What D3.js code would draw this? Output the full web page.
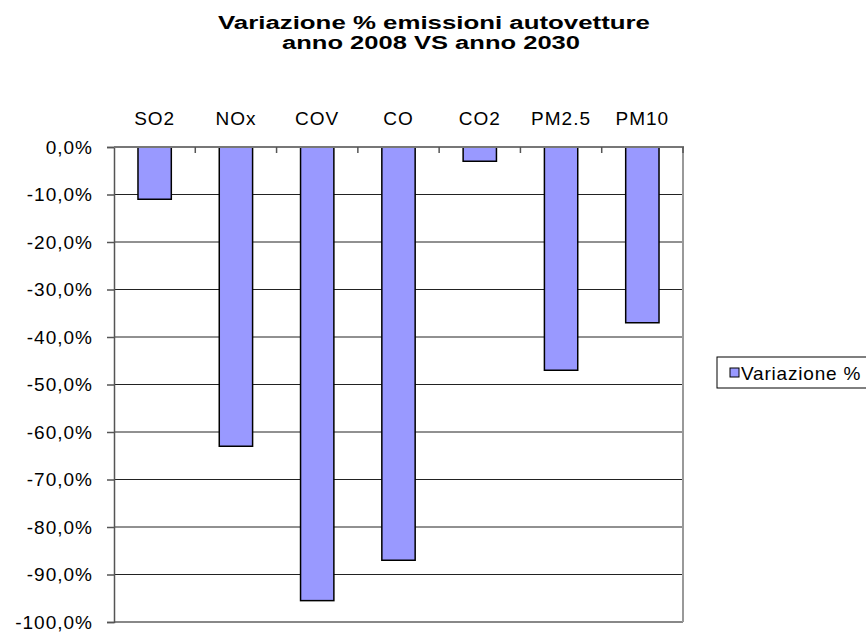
<!DOCTYPE html>
<html><head><meta charset="utf-8">
<script src="https://cdn.jsdelivr.net/npm/d3@7"></script>
<style>body{margin:0;background:#fff;}svg{display:block;}</style>
</head><body>
<svg id="c" width="866" height="632"></svg>
<script>
const categories = ["SO2","NOx","COV","CO","CO2","PM2.5","PM10"];
const values = [-11, -63, -95.5, -87, -3, -47, -37];
const yTicks = [0,-10,-20,-30,-40,-50,-60,-70,-80,-90,-100];
const seriesName = "Variazione %";
const titleLines = ["Variazione %  emissioni autovetture", "anno 2008 VS anno 2030"];

const svg = d3.select("#c");
const font = "'Liberation Sans', Arial, sans-serif";
const L = 114, R = 683, T = 147, B = 622;

const x = d3.scaleBand().domain(categories).range([L, R]).padding(0);
const y = d3.scaleLinear().domain([0, -100]).range([T, B]);

// gridlines
svg.append("g").selectAll("line").data(yTicks.slice(1)).join("line")
  .attr("x1", L).attr("x2", R).attr("y1", d => y(d)).attr("y2", d => y(d))
  .attr("stroke", d => d === -100 ? "#888" : "#222").attr("stroke-width", d => d === -100 ? 2 : 1);

// right border
svg.append("line").attr("x1", R).attr("x2", R).attr("y1", T).attr("y2", B)
  .attr("stroke", "#999").attr("stroke-width", 2);

// left axis
const yAxis = d3.axisLeft(y).tickValues(yTicks).tickSize(7).tickPadding(14)
  .tickFormat(d => d3.format(".1f")(d).replace(".", ",").replace("\u2212", "-") + "%");
const ga = svg.append("g").attr("transform", `translate(${L},0)`).call(yAxis);
ga.select(".domain").attr("stroke", "#555").attr("stroke-width", 1.5);
ga.selectAll(".tick line").attr("stroke", "#555").attr("stroke-width", 1.5);
ga.selectAll(".tick text").attr("font-family", font).attr("font-size", 19)
  .attr("letter-spacing", 1).attr("fill", "#000");

// bars
const bw = x.bandwidth() * 0.41;
svg.append("g").selectAll("rect").data(values).join("rect")
  .attr("x", (d, i) => x(categories[i]) + (x.bandwidth() - bw) / 2)
  .attr("y", d => y(0))
  .attr("width", bw)
  .attr("height", d => y(d) - y(0))
  .attr("fill", "#9999FF").attr("stroke", "#000").attr("stroke-width", 1.5);

// top axis at zero
svg.append("line").attr("x1", L).attr("x2", R + 1).attr("y1", y(0)).attr("y2", y(0))
  .attr("stroke", "#777").attr("stroke-width", 2);
svg.append("g").selectAll("line").data(categories.slice(1).concat(["_end"])).join("line")
  .attr("x1", d => d === "_end" ? R : x(d)).attr("x2", d => d === "_end" ? R : x(d))
  .attr("y1", y(0)).attr("y2", y(0) + 6)
  .attr("stroke", "#555").attr("stroke-width", 1.5);

// category labels on top
svg.append("g").selectAll("text").data(categories).join("text")
  .attr("x", d => x(d) + x.bandwidth() / 2).attr("y", 125)
  .attr("text-anchor", "middle").attr("font-family", font).attr("font-size", 19)
  .attr("letter-spacing", 1)
  .text(d => d);

// title
svg.append("text").attr("x", 434).attr("y", 29).attr("text-anchor", "middle")
  .attr("font-family", font).attr("font-size", 18).attr("font-weight", "bold")
  .attr("textLength", 432).attr("lengthAdjust", "spacingAndGlyphs")
  .text(titleLines[0]);
svg.append("text").attr("x", 431).attr("y", 49).attr("text-anchor", "middle")
  .attr("font-family", font).attr("font-size", 18).attr("font-weight", "bold")
  .attr("textLength", 298).attr("lengthAdjust", "spacingAndGlyphs")
  .text(titleLines[1]);

// legend
const lg = svg.append("g");
lg.append("rect").attr("x", 717).attr("y", 357).attr("width", 160).attr("height", 31)
  .attr("fill", "#fff").attr("stroke", "#000").attr("stroke-width", 1);
lg.append("rect").attr("x", 730).attr("y", 368).attr("width", 9).attr("height", 9)
  .attr("fill", "#9999FF").attr("stroke", "#000").attr("stroke-width", 1);
lg.append("text").attr("x", 741).attr("y", 380).attr("font-family", font).attr("font-size", 19)
  .attr("letter-spacing", 0.8)
  .text(seriesName);
</script>
</body></html>
